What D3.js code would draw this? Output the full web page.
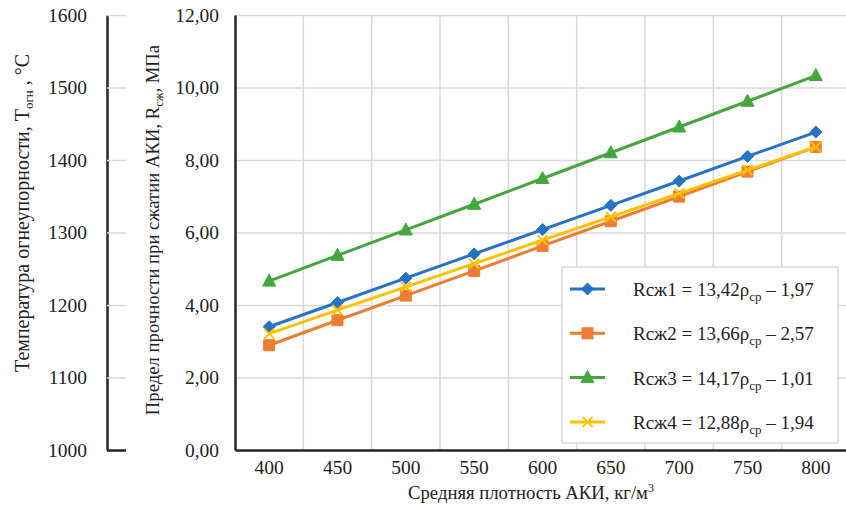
<!DOCTYPE html>
<html>
  <head>
    <meta charset="utf-8" />
    <title>Прочность АКИ</title>
    <script src="https://d3js.org/d3.v7.min.js"></script>
    <style type="text/css">
      body { margin: 0; background: #fff; }
      svg text { font-family: "Liberation Serif", "DejaVu Serif", serif; fill: #222; }
    </style>
  </head>
  <body>
    <div id="chart"></div>
    <script type="text/javascript">
      // data
      var densities = ["400", "450", "500", "550", "600", "650", "700", "750", "800"];
      var rsg1 = [3.40, 4.07, 4.74, 5.41, 6.08, 6.75, 7.42, 8.10, 8.77];
      var rsg2 = [2.89, 3.58, 4.26, 4.94, 5.63, 6.31, 6.99, 7.68, 8.36];
      var rsg3 = [4.66, 5.37, 6.07, 6.78, 7.49, 8.20, 8.91, 9.62, 10.33];
      var rsg4 = [3.21, 3.86, 4.50, 5.14, 5.79, 6.43, 7.08, 7.72, 8.36];
      var strengthTicks = [0, 2, 4, 6, 8, 10, 12];
      var tempTicks = [1000, 1100, 1200, 1300, 1400, 1500, 1600];

      var series = [
        { name: "Rсж1", k: "13,42", b: "1,97", values: rsg1, color: "#2672c4", marker: "diamond" },
        { name: "Rсж2", k: "13,66", b: "2,57", values: rsg2, color: "#ed7d31", marker: "square" },
        { name: "Rсж3", k: "14,17", b: "1,01", values: rsg3, color: "#44a63c", marker: "triangle" },
        { name: "Rсж4", k: "12,88", b: "1,94", values: rsg4, color: "#ffc000", marker: "cross" }
      ];

      var width = 846, height = 505;
      var plotLeft = 235, plotRight = 850, plotTop = 15, plotBottom = 450;
      var serif = "Liberation Serif, DejaVu Serif, serif";

      var svg = d3.select("#chart").append("svg")
          .attr("width", width)
          .attr("height", height)
          .attr("font-family", serif);

      var x = d3.scaleBand().domain(densities).range([plotLeft, plotRight]).padding(0);
      var y = d3.scaleLinear().domain([0, 12]).range([plotBottom, plotTop]);
      var t = d3.scaleLinear().domain([1000, 1600]).range([plotBottom, plotTop]);

      // horizontal grid
      svg.append("g")
          .attr("transform", "translate(" + plotLeft + ",0)")
          .call(d3.axisLeft(y).tickValues(strengthTicks).tickSize(-(width - plotLeft)).tickFormat(""))
          .call(function(g) {
            g.select(".domain").remove();
            g.selectAll("line").attr("stroke", "#d9d9d9").attr("stroke-width", 1.5);
          });

      // vertical grid between categories
      svg.append("g").selectAll("line")
          .data(densities.slice(1))
          .enter().append("line")
          .attr("x1", function(d) { return x(d); })
          .attr("x2", function(d) { return x(d); })
          .attr("y1", plotTop)
          .attr("y2", plotBottom)
          .attr("stroke", "#d9d9d9")
          .attr("stroke-width", 1.5);

      // main y axis
      svg.append("g")
          .attr("transform", "translate(" + plotLeft + ",0)")
          .call(d3.axisLeft(y).tickValues(strengthTicks).tickSize(0).tickPadding(16)
                .tickFormat(function(d) { return d.toFixed(2).replace(".", ","); }))
          .call(function(g) {
            g.attr("font-family", serif).attr("font-size", 19.5);
            g.select(".domain").attr("stroke", "#262626").attr("stroke-width", 2.5);
          });

      // x axis
      svg.append("g")
          .attr("transform", "translate(0," + plotBottom + ")")
          .call(d3.axisBottom(x).tickSize(0).tickPadding(10))
          .call(function(g) {
            g.attr("font-family", serif).attr("font-size", 19.5);
            g.select(".domain").attr("stroke", "#262626").attr("stroke-width", 2.5);
          });

      // left temperature axis
      svg.append("g")
          .attr("transform", "translate(107,0)")
          .call(d3.axisLeft(t).tickValues(tempTicks).tickSize(-19).tickSizeOuter(0).tickPadding(20)
                .tickFormat(d3.format("d")))
          .call(function(g) {
            g.attr("font-family", serif).attr("font-size", 19.5);
            g.select(".domain").attr("stroke", "#262626").attr("stroke-width", 2.5);
            g.selectAll(".tick line").attr("stroke", "#d9d9d9").attr("stroke-width", 1.5);
            g.selectAll(".tick").filter(function(d) { return d === 1000; })
              .select("line").attr("stroke", "#262626").attr("stroke-width", 2.5);
          });

      function markerPath(type) {
        if (type === "diamond") return "M0,-6L6,0L0,6L-6,0Z";
        if (type === "square") return "M-5.5,-5.5H5.5V5.5H-5.5Z";
        if (type === "triangle") return "M0,-7L6.5,5H-6.5Z";
        return "M-5,-5L5,5M-5,5L5,-5";
      }

      var line = d3.line()
          .x(function(d, i) { return x(densities[i]) + x.bandwidth() / 2; })
          .y(function(d) { return y(d); });

      series.forEach(function(s) {
        svg.append("path")
            .datum(s.values)
            .attr("d", line)
            .attr("fill", "none")
            .attr("stroke", s.color)
            .attr("stroke-width", 3);
        svg.append("g").selectAll("path")
            .data(s.values)
            .enter().append("path")
            .attr("transform", function(d, i) {
              return "translate(" + (x(densities[i]) + x.bandwidth() / 2) + "," + y(d) + ")";
            })
            .attr("d", markerPath(s.marker))
            .attr("fill", s.marker === "cross" ? "none" : s.color)
            .attr("stroke", s.color)
            .attr("stroke-width", s.marker === "cross" ? 2 : 1);
      });

      // legend
      var legend = svg.append("g").attr("transform", "translate(562,267)");
      legend.append("rect")
          .attr("width", 276)
          .attr("height", 176)
          .attr("fill", "#fff")
          .attr("stroke", "#d9d9d9")
          .attr("stroke-width", 1.5);
      series.forEach(function(s, i) {
        var row = legend.append("g").attr("transform", "translate(0," + (22 + i * 44.3) + ")");
        row.append("line")
            .attr("x1", 8).attr("x2", 43)
            .attr("stroke", s.color).attr("stroke-width", 3);
        row.append("path")
            .attr("transform", "translate(25.5,0)")
            .attr("d", markerPath(s.marker))
            .attr("fill", s.marker === "cross" ? "none" : s.color)
            .attr("stroke", s.color)
            .attr("stroke-width", s.marker === "cross" ? 2 : 1);
        var txt = row.append("text")
            .attr("x", 71)
            .attr("y", 7)
            .attr("font-size", 19);
        txt.append("tspan").text(s.name + " = " + s.k + "ρ");
        txt.append("tspan").attr("dy", 5).attr("font-size", 13).text("ср");
        txt.append("tspan").attr("dy", -5).text(" – " + s.b);
      });

      // axis titles
      var t1 = svg.append("text")
          .attr("transform", "translate(29,213) rotate(-90)")
          .attr("text-anchor", "middle")
          .attr("font-size", 20);
      t1.append("tspan").text("Температура огнеупорности, T");
      t1.append("tspan").attr("dy", 4).attr("font-size", 13).text("огн");
      t1.append("tspan").attr("dy", -4).text(" , °C");

      var t2 = svg.append("text")
          .attr("transform", "translate(159,230) rotate(-90)")
          .attr("text-anchor", "middle")
          .attr("font-size", 18.7);
      t2.append("tspan").text("Предел прочности при сжатии АКИ, R");
      t2.append("tspan").attr("dy", 4).attr("font-size", 12.5).text("сж");
      t2.append("tspan").attr("dy", -4).text(", МПа");

      var t3 = svg.append("text")
          .attr("x", 531)
          .attr("y", 499)
          .attr("text-anchor", "middle")
          .attr("font-size", 18.7);
      t3.append("tspan").text("Средняя плотность АКИ, кг/м");
      t3.append("tspan").attr("dy", -7).attr("font-size", 12).text("3");
    </script>
  </body>
</html>
